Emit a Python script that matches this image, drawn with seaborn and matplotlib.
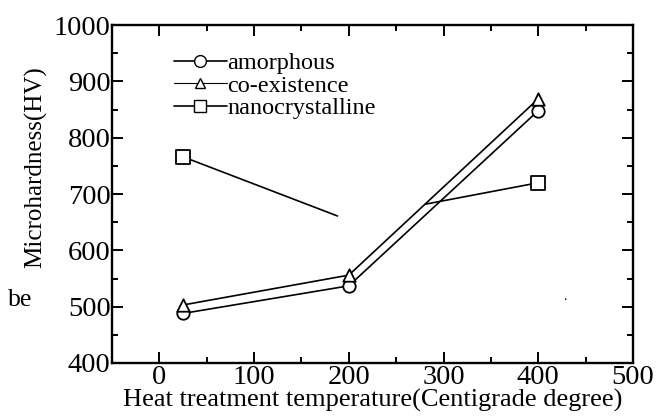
import matplotlib
matplotlib.use("Agg")
import matplotlib.pyplot as plt
import seaborn as sns
import pandas as pd
from matplotlib.lines import Line2D
from matplotlib.ticker import MultipleLocator

# values
temps = [25, 200, 400]
amorphous = [488, 537, 848]
coexistence = [503, 556, 869]
# the nanocrystalline line is broken in the original: two visible pieces
nano_x1 = [25, 188]
nano_y1 = [766, 661]
nano_x2 = [281, 400]
nano_y2 = [682, 720]
nano_marker_x = [25, 400]
nano_marker_y = [766, 720]

labels = ["amorphous", "co-existence", "nanocrystalline"]

sns.set_style("ticks", {"axes.edgecolor": "black", "xtick.color": "black",
                        "ytick.color": "black", "text.color": "black",
                        "axes.labelcolor": "black"})
plt.rcParams["font.family"] = ["Liberation Serif", "DejaVu Serif"]

fig = plt.figure(figsize=(6.58, 4.17), dpi=100)
ax = fig.add_axes([112 / 658, 1 - 363 / 417, 521 / 658, 338 / 417])

lw = 1.2
ms = 8.5
mk = dict(color="black", linewidth=lw)

df_am = pd.DataFrame({"x": temps, "y": amorphous})
df_co = pd.DataFrame({"x": temps, "y": coexistence})
sns.lineplot(data=df_am, x="x", y="y", ax=ax, sort=False, **mk)
sns.lineplot(data=df_co, x="x", y="y", ax=ax, sort=False, **mk)
sns.lineplot(x=nano_x1, y=nano_y1, ax=ax, sort=False, **mk)
sns.lineplot(x=nano_x2, y=nano_y2, ax=ax, sort=False, **mk)

sc = dict(color="white", edgecolor="black", linewidth=1.3, zorder=5)
sns.scatterplot(x=temps, y=amorphous, marker="o", s=80, ax=ax, **sc)
sns.scatterplot(x=temps, y=coexistence, marker="^", s=80, ax=ax, **sc)
sns.scatterplot(x=nano_marker_x, y=nano_marker_y, marker="s", s=90, ax=ax, **sc)

ax.set_xlim(-50, 500)
ax.set_ylim(400, 1000)
ax.xaxis.set_major_locator(MultipleLocator(100))
ax.xaxis.set_minor_locator(MultipleLocator(50))
ax.yaxis.set_major_locator(MultipleLocator(100))
ax.yaxis.set_minor_locator(MultipleLocator(50))
ax.tick_params(which="both", direction="in", top=True, right=True, width=1.4,
               color="black")
ax.tick_params(which="major", length=8, labelsize=20.5)
ax.tick_params(which="minor", length=4.5)
ax.tick_params(axis="y", pad=1)
ax.tick_params(axis="x", pad=1.5)
for sp in ax.spines.values():
    sp.set_linewidth(1.7)
    sp.set_color("black")

ax.set_xlabel("Heat treatment temperature(Centigrade degree)", fontsize=19, labelpad=-1)
ax.set_ylabel("Microhardness(HV)", fontsize=18)
ax.yaxis.set_label_coords(-0.125, 0.58)

handles = [
    Line2D([], [], color="black", lw=lw, marker="o", ms=ms, mfc="white", mec="black"),
    Line2D([], [], color="black", lw=0.8, marker="^", ms=ms - 1, mfc="white", mec="black"),
    Line2D([], [], color="black", lw=lw, marker="s", ms=ms, mfc="white", mec="black"),
]
ax.legend(handles, labels, loc="upper left", bbox_to_anchor=(0.095, 0.955),
          frameon=False, fontsize=17.5, handlelength=2.2, handletextpad=0.0,
          labelspacing=0.02, borderpad=0)

fig.text(8 / 658, 1 - 300 / 417, "be", fontsize=18.5, va="center", ha="left")
fig.text(565 / 658, 1 - 303 / 417, ".", fontsize=10, va="bottom", ha="center")

fig.savefig("out.png", dpi=100)
